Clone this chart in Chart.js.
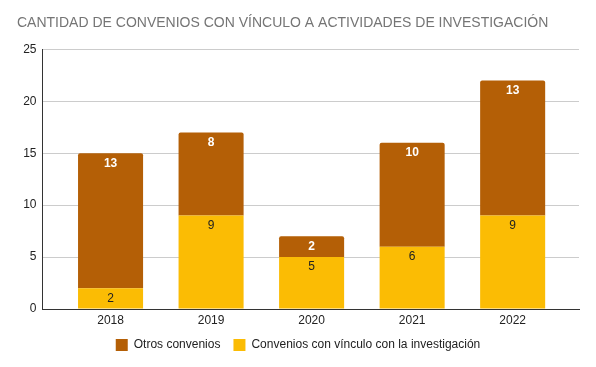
<!DOCTYPE html>
<html>
<head>
<meta charset="utf-8">
<script src="https://cdn.jsdelivr.net/npm/chart.js@4.4.1/dist/chart.umd.min.js"></script>
<style>
  html, body { margin: 0; padding: 0; background: #fff; }
  #wrap { width: 596px; height: 367px; position: relative; }
</style>
</head>
<body>
<div id="wrap"><canvas id="chart"></canvas></div>
<script>
const years = ['2018', '2019', '2020', '2021', '2022'];
const otros = [13, 8, 2, 10, 13];
const conVinculo = [2, 9, 5, 6, 9];
const yTicks = [0, 5, 10, 15, 20, 25];

const titleText = 'CANTIDAD DE CONVENIOS CON VÍNCULO A ACTIVIDADES DE INVESTIGACIÓN';
const fontFamily = 'Arial, "Liberation Sans", sans-serif';

// numbers written inside each segment, near its top
const segmentLabels = {
    id: 'segmentLabels',
    afterDatasetsDraw(chart) {
        const ctx = chart.ctx;
        ctx.save();
        ctx.textAlign = 'center';
        ctx.textBaseline = 'middle';
        chart.data.datasets.forEach((ds, i) => {
            const meta = chart.getDatasetMeta(i);
            meta.data.forEach((bar, j) => {
                ctx.fillStyle = ds.labelColor;
                ctx.font = ds.labelFont;
                ctx.fillText(ds.data[j].y, bar.x, bar.y + 10);
            });
        });
        ctx.restore();
    }
};

new Chart(document.getElementById('chart'), {
    type: 'bar',
    data: {
        datasets: [{
            label: 'Convenios con vínculo con la investigación',
            data: conVinculo.map((v, i) => ({ x: i, y: v })),
            backgroundColor: '#fbbc04',
            labelColor: '#222',
            labelFont: '12px ' + fontFamily
        }, {
            label: 'Otros convenios',
            data: otros.map((v, i) => ({ x: i, y: v })),
            backgroundColor: '#b45f06',
            borderRadius: { topLeft: 2, topRight: 2 },
            borderSkipped: 'bottom',
            labelColor: '#fff',
            labelFont: 'bold 12px ' + fontFamily
        }]
    },
    options: {
        responsive: true,
        maintainAspectRatio: false,
        animation: false,
        barPercentage: 0.647,
        categoryPercentage: 1,
        layout: {
            padding: { left: 17, right: 17, top: 8, bottom: 6 }
        },
        plugins: {
            title: {
                display: true,
                text: titleText,
                align: 'start',
                color: '#757575',
                font: { family: fontFamily, size: 14, weight: 'normal' },
                padding: { top: 7, bottom: 17.6 }
            },
            legend: {
                position: 'bottom',
                reverse: true,
                labels: {
                    boxWidth: 12,
                    boxHeight: 12,
                    color: '#222',
                    padding: 13,
                    font: { family: fontFamily, size: 12 }
                }
            },
            tooltip: { enabled: false }
        },
        scales: {
            x: {
                type: 'linear',
                offset: false,
                min: -0.677,
                max: 4.66,
                stacked: true,
                afterBuildTicks: scale => {
                    scale.ticks = years.map((_, i) => ({ value: i }));
                },
                afterFit: scale => {
                    scale.height = 17;
                },
                ticks: {
                    color: '#222',
                    font: { family: fontFamily, size: 12, lineHeight: 1 },
                    padding: 6,
                    callback: value => years[value]
                },
                grid: { display: false, drawTicks: false },
                border: { display: true, color: '#333', width: 1 }
            },
            y: {
                stacked: true,
                min: 0,
                max: 25,
                afterBuildTicks: scale => {
                    scale.ticks = yTicks.map(v => ({ value: v }));
                },
                afterFit: scale => {
                    scale.width = 25.5;
                },
                ticks: {
                    color: '#222',
                    padding: 6,
                    font: { family: fontFamily, size: 12 }
                },
                grid: { color: '#cccccc', drawTicks: false },
                border: { display: true, color: '#333', width: 1 }
            }
        }
    },
    plugins: [segmentLabels]
});
</script>
</body>
</html>
